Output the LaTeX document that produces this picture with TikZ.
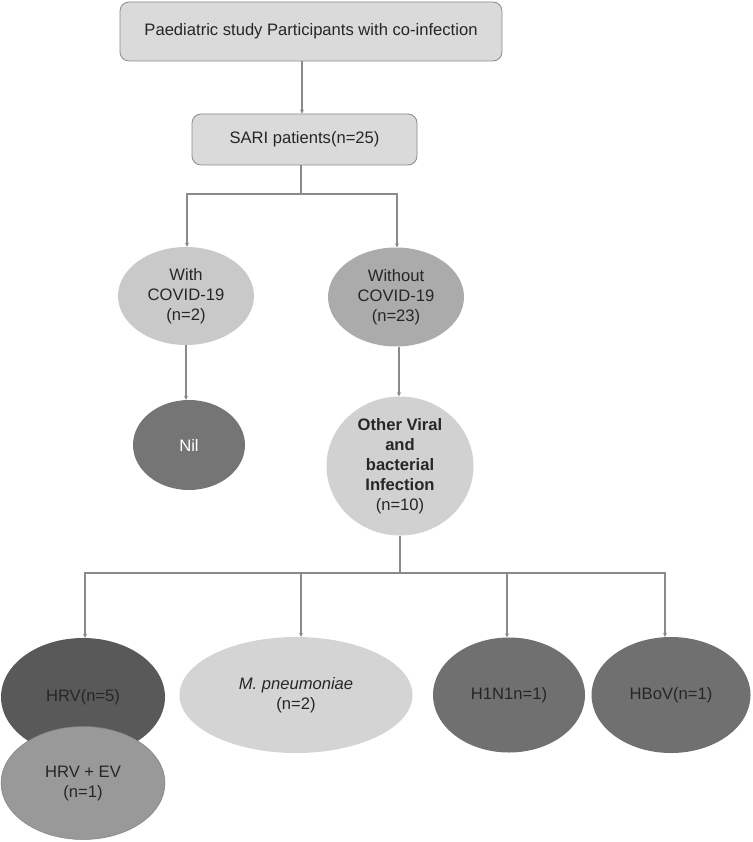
\documentclass[tikz,border=0pt]{standalone}
\usepackage{fontspec}
\setmainfont{Liberation Sans}
\usetikzlibrary{arrows.meta,shapes.geometric}

\definecolor{boxfill}{HTML}{DADADA}
\definecolor{linegray}{HTML}{8A8A8A}
\definecolor{txtgray}{HTML}{262626}

\begin{document}
\begin{tikzpicture}[
    x=1pt,y=-1pt,
    >={Stealth[length=4pt,width=4pt]},
    conn/.style={linegray,line width=1.6pt},
    arr/.style={conn,->},
    stepbox/.style={draw=linegray,line width=0.8pt,fill=boxfill,rounded corners=9pt,
        inner sep=0pt,font=\fontsize{16.6}{20}\selectfont,text=txtgray},
    oval/.style={ellipse,fill=#1,inner sep=0pt,align=center,
        font=\fontsize{16.6}{20}\selectfont,text=txtgray},
]
\useasboundingbox (0,0) rectangle (752,842);

% === Top boxes ===
\node[stepbox,minimum width=382,minimum height=59] (top) at (311,31.5)
    {Paediatric study Participants with co-infection};
\node[stepbox,minimum width=225,minimum height=51] (sari) at (304.5,139.5)
    {SARI patients(n=25)};

% === COVID split ===
\node[oval=black!21,minimum width=136,minimum height=98] (with) at (186,296)
    {With\\COVID-19\\(n=2)};
\node[oval=black!33,minimum width=136,minimum height=99] (without) at (396,297)
    {Without\\COVID-19\\(n=23)};
\node[oval=black!54,minimum width=112,minimum height=90,text=white] (nil) at (189,445)
    {Nil};
\node[oval=black!18,minimum width=147,minimum height=139] (other) at (400,466)
    {\textbf{Other Viral}\\\textbf{and}\\\textbf{bacterial}\\\textbf{Infection}\\(n=10)};

% === Bottom row ===
\node[oval=black!65,minimum width=164,minimum height=118] (hrv) at (83,697)
    {HRV(n=5)};
\node[oval=black!40,draw=black!50,line width=0.5pt,minimum width=164,minimum height=113] (hrvev) at (83,783)
    {HRV + EV\\(n=1)};
\node[oval=black!17,minimum width=233,minimum height=116] (mpn) at (296,695)
    {\textit{M. pneumoniae}\\(n=2)};
\node[oval=black!56,minimum width=152,minimum height=115] (hnn) at (509,695)
    {H1N1n=1)};
\node[oval=black!56,minimum width=159,minimum height=116] (hbov) at (671,695)
    {HBoV(n=1)};

% === Connectors ===
\draw[arr] ([xshift=-9pt]top.south) -- ([xshift=-9pt]top.south |- sari.north);
\coordinate (split1) at (301,194);
\coordinate (split2) at (400,573);
\draw[conn] ([xshift=-3.5pt]sari.south) -- (split1);
\draw[arr] (split1) -| ([xshift=1pt]with.north);
\draw[arr] (split1) -| ([xshift=1pt]without.north);
\draw[arr] (with.south) -- (with.south |- nil.north);
\draw[arr] ([xshift=3pt]without.south) -- ([xshift=3pt]without.south |- other.north);
\draw[conn] (other.south) -- (split2);
\draw[arr] (split2) -| ([xshift=2pt]hrv.north);
\draw[arr] (split2) -| ([xshift=5pt]mpn.north);
\draw[arr] (split2) -| ([xshift=-2pt]hnn.north);
\draw[arr] (split2) -| ([xshift=-6pt]hbov.north);
\end{tikzpicture}
\end{document}
